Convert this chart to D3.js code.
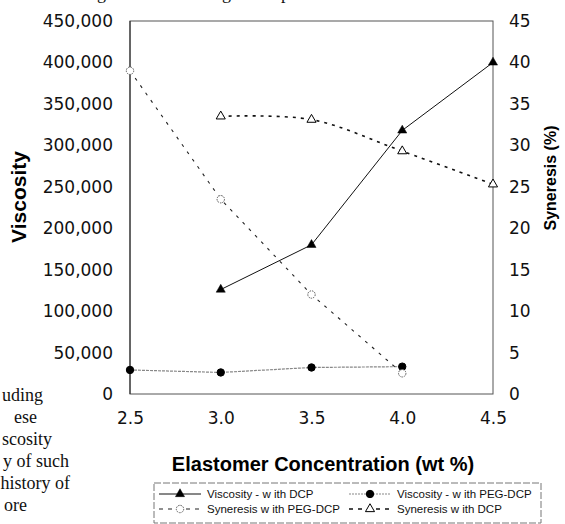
<!DOCTYPE html>
<html>
<head>
<meta charset="utf-8">
<script src="https://cdn.jsdelivr.net/npm/d3@7"></script>
<style>
  html,body{margin:0;padding:0;background:#fff;overflow:hidden;}
  svg{display:block;}
  .tick text{font-family:"DejaVu Sans",sans-serif;font-size:17px;fill:#111;}
  .serif{font-family:"Liberation Serif","Times New Roman",serif;font-size:18px;fill:#111;}
</style>
</head>
<body>
<svg id="viz" width="565" height="524"></svg>
<script>
// data
const conc = [2.5, 3.0, 3.5, 4.0, 4.5];
const viscDCP = [null, 126000, 180000, 318000, 400000];
const viscPEG = [29000, 26000, 32000, 33000, null];
const synPEG = [39, 23.5, 12, 2.5, null];
const synDCP = [null, 33.5, 33.1, 29.3, 25.3];
const xTicks = [2.5, 3.0, 3.5, 4.0, 4.5];
const leftTicks = [0, 50000, 100000, 150000, 200000, 250000, 300000, 350000, 400000, 450000];
const rightTicks = [0, 5, 10, 15, 20, 25, 30, 35, 40, 45];
const legendRows = [
  ["Viscosity - w ith DCP", "Viscosity - w ith PEG-DCP"],
  ["Syneresis w ith PEG-DCP", "Syneresis w ith DCP"]
];
// scraps of the scanned page around the figure
const sideText = ["uding", "ese", "scosity", "y of such", "history of", "ore"];

const svg = d3.select("#viz");
const L = 130, R = 493, T = 21, B = 394;
const x = d3.scaleLinear().domain([2.5, 4.5]).range([L, R]);
const yL = d3.scaleLinear().domain([0, 450000]).range([B, T]);
const yR = d3.scaleLinear().domain([0, 45]).range([B, T]);

// page text cut off by the crop
const sideEnds = [43, 37, 52, 69, 70, 27];
const sideBase = [401, 423, 445, 467, 489, 511];
svg.append("g").selectAll("text").data(sideText).join("text")
  .attr("class", "serif").attr("text-anchor", "end")
  .attr("x", (d, i) => sideEnds[i]).attr("y", (d, i) => sideBase[i]).text(d => d);
svg.append("g").selectAll("text").data([["thing", 106], ["strong", 231], ["up", 290]]).join("text")
  .attr("class", "serif").attr("text-anchor", "end")
  .attr("x", d => d[1]).attr("y", -1.5).text(d => d[0]);

// frame
svg.append("rect").attr("x", L).attr("y", T).attr("width", R - L).attr("height", B - T)
  .attr("fill", "none").attr("stroke", "#555").attr("stroke-width", 1);
svg.append("line").attr("x1", L).attr("x2", L).attr("y1", T).attr("y2", B).attr("stroke", "#222");

// axes
const ax = svg.append("g").attr("transform", `translate(0,${B})`)
  .call(d3.axisBottom(x).tickValues(xTicks).tickSize(0).tickPadding(18).tickFormat(d3.format(".1f")));
const ayl = svg.append("g").attr("transform", `translate(${L},0)`)
  .call(d3.axisLeft(yL).tickValues(leftTicks).tickSize(0).tickPadding(17).tickFormat(d3.format(",")));
const ayr = svg.append("g").attr("transform", `translate(${R},0)`)
  .call(d3.axisRight(yR).tickValues(rightTicks).tickSize(0).tickPadding(16));
[ax, ayl, ayr].forEach(a => a.select(".domain").remove());

// axis titles
svg.append("text").attr("x", 323).attr("y", 471).attr("text-anchor", "middle")
  .attr("font-family", "Liberation Sans, Arial, sans-serif").attr("font-weight", "bold")
  .attr("font-size", 20).text("Elastomer Concentration (wt %)");
svg.append("text").attr("transform", "translate(26,197) rotate(-90)").attr("text-anchor", "middle")
  .attr("font-family", "Liberation Sans, Arial, sans-serif").attr("font-weight", "bold")
  .attr("font-size", 21).text("Viscosity");
svg.append("text").attr("transform", "translate(556,178) rotate(-90)").attr("text-anchor", "middle")
  .attr("font-family", "Liberation Sans, Arial, sans-serif").attr("font-weight", "bold")
  .attr("font-size", 16).text("Syneresis (%)");

// series
const pts = (vals, y) => conc.map((c, i) => ({c, v: vals[i]})).filter(d => d.v != null).map(d => ({px: x(d.c), py: y(d.v)}));
const series = [
  {vals: viscDCP, y: yL, stroke: "#111", w: 1, dash: null, curve: d3.curveLinear, mark: "tri", fill: "#000"},
  {vals: viscPEG, y: yL, stroke: "#888", w: 1.2, dash: "3,1", curve: d3.curveLinear, mark: "circ", fill: "#000"},
  {vals: synPEG, y: yR, stroke: "#222", w: 1.1, dash: "3,6", curve: d3.curveLinear, mark: "circ", fill: "#fff"},
  {vals: synDCP, y: yR, stroke: "#111", w: 1.6, dash: "3,5", curve: d3.curveCatmullRom.alpha(0.5), mark: "tri", fill: "#fff"}
];
const line = d3.line().x(d => d.px).y(d => d.py);
const triangle = d3.symbol().type(d3.symbolTriangle).size(36);

function marker(sel, s, cx, cy) {
  if (s.mark === "tri") {
    sel.append("path").attr("d", triangle).attr("transform", `translate(${cx},${cy})`)
      .attr("fill", s.fill).attr("stroke", "#000").attr("stroke-width", s.fill === "#fff" ? 1 : 0.5);
  } else {
    sel.append("circle").attr("cx", cx).attr("cy", cy).attr("r", 3.7)
      .attr("fill", s.fill).attr("stroke", s.fill === "#fff" ? "#555" : "#000")
      .attr("stroke-width", 1).attr("stroke-dasharray", s.fill === "#fff" ? "1.5,1" : null);
  }
}

const sg = svg.append("g");
series.forEach(s => {
  const p = pts(s.vals, s.y);
  sg.append("path").attr("d", line.curve(s.curve)(p)).attr("fill", "none")
    .attr("stroke", s.stroke).attr("stroke-width", s.w).attr("stroke-dasharray", s.dash);
});
series.forEach(s => pts(s.vals, s.y).forEach(d => marker(sg, s, d.px, d.py)));

// legend
const lg = svg.append("g");
lg.append("rect").attr("x", 154).attr("y", 483).attr("width", 387).attr("height", 40)
  .attr("fill", "#fff").attr("stroke", "#777").attr("stroke-width", 1).attr("stroke-dasharray", "7,2");
const colX = [159, 349], rowY = [494, 509];
const legSeries = [[series[0], series[1]], [series[2], series[3]]];
legendRows.forEach((row, r) => row.forEach((label, c) => {
  const s = legSeries[r][c], x0 = colX[c], yy = rowY[r];
  lg.append("line").attr("x1", x0).attr("x2", x0 + 42).attr("y1", yy).attr("y2", yy)
    .attr("stroke", s.stroke).attr("stroke-width", s.w).attr("stroke-dasharray", s.dash ? (r ? "4,5" : "2,1") : null);
  marker(lg, s, x0 + 21, yy);
  lg.append("text").attr("x", x0 + 48).attr("y", yy + 4)
    .attr("font-family", "Liberation Sans, Arial, sans-serif").attr("font-size", 11.5).attr("fill", "#111")
    .text(label);
}));
</script>
</body>
</html>
